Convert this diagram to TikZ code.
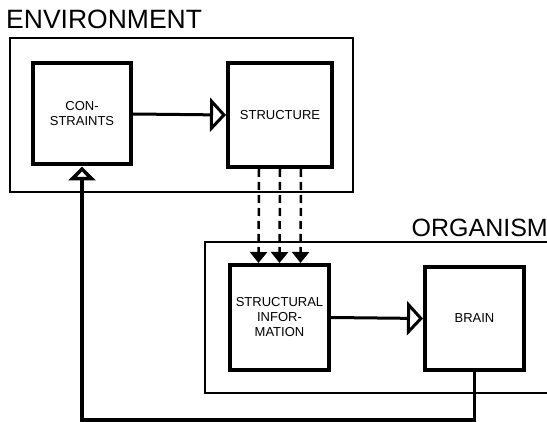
\documentclass[tikz,border=0pt]{standalone}
\usepackage{fontspec}
\setmainfont{Liberation Sans}
\usetikzlibrary{positioning,arrows.meta}
\tikzset{
  outer/.style={draw,line width=1.3pt,inner sep=0pt},
  blk/.style={draw,line width=4pt,align=center,font=\fontsize{13}{15}\selectfont,inner sep=0pt},
  ttl/.style={font=\fontsize{25}{27}\selectfont,inner sep=0pt},
  ar/.style={line width=3pt,-{Triangle[open,length=16pt,width=34pt]}},
  dar/.style={line width=2.5pt,dash pattern=on 8pt off 5pt,-{Triangle[length=11pt,width=17pt]}},
  fb/.style={line width=3.5pt,-{Triangle[open,length=14pt,width=27pt]}},
}

\begin{document}
\begin{tikzpicture}[x=1pt,y=-1pt]
  \useasboundingbox (0,0) rectangle (547,422);
  \clip (0,0) rectangle (547,422);
  % environment
  \node[outer,minimum width=343pt,minimum height=154pt] (env) at (181.5,115) {};
  \node[ttl,font=\fontsize{26.5}{28}\selectfont,anchor=south west] (envlab) at (6,29) {ENVIRONMENT};
  \node[blk,minimum width=98pt,minimum height=101pt] (cons) at (82,114) {CON-\\STRAINTS};
  \node[blk,minimum width=104pt,minimum height=104pt] (struct) at (280,115) {STRUCTURE};
  % organism
  \node[outer,minimum width=375pt,minimum height=151pt] (org) at (392.5,317.5) {};
  \node[ttl,anchor=south east] (orglab) at (548,237) {ORGANISM};
  \node[blk,minimum width=99pt,minimum height=105pt] (info) at (279.5,317.5) {STRUCTURAL\\INFOR-\\MATION};
  \node[blk,minimum width=99pt,minimum height=103pt] (brain) at (474.5,318.5) {BRAIN};
  % connectors
  \draw[ar] (cons.east) -- (struct.west);
  \foreach \dx in {-21,0,21}
    \draw[dar] ([xshift=\dx pt]struct.south) -- ([xshift=\dx pt]info.north);
  \draw[ar] (info.east) -- (brain.west);
  \draw[fb] (brain.south) -- ++(0,48) -| (cons.south);
\end{tikzpicture}
\end{document}
